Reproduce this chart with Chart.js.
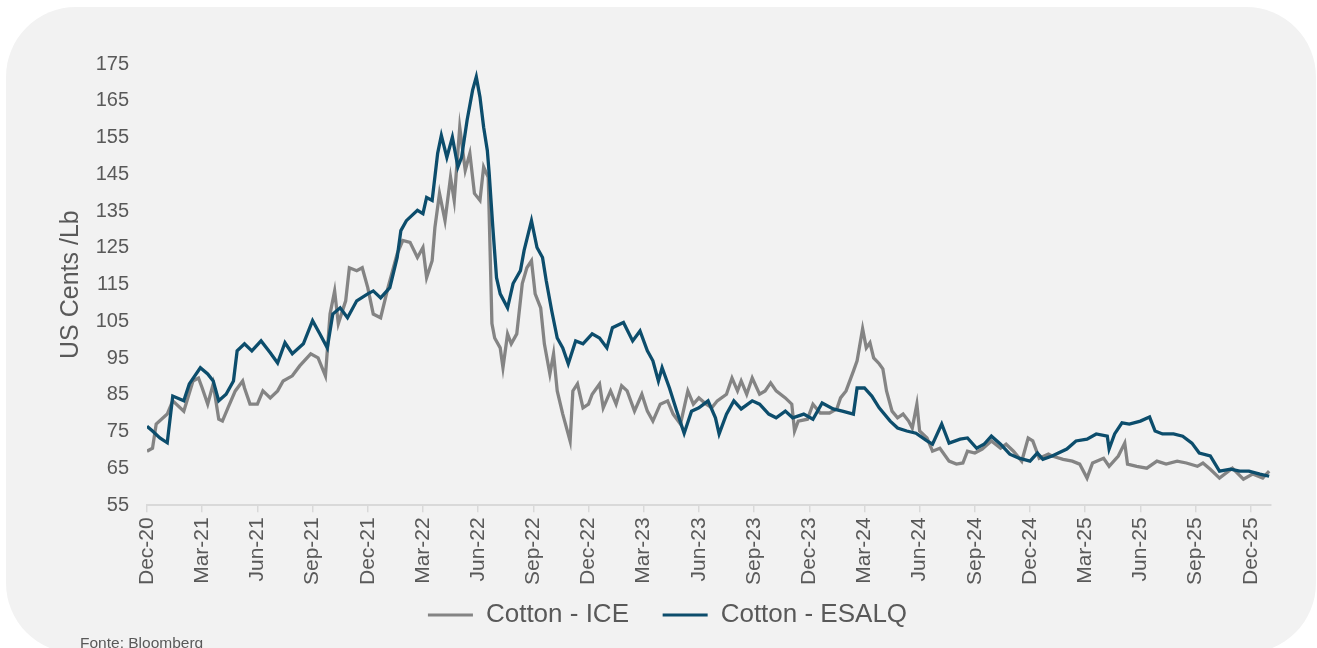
<!DOCTYPE html>
<html>
<head>
<meta charset="utf-8">
<script src="https://cdn.jsdelivr.net/npm/chart.js@4.4.1/dist/chart.umd.min.js"></script>
<style>
  html, body { margin: 0; padding: 0; background: #ffffff; }
  #wrap { position: relative; width: 1317px; height: 648px; overflow: hidden; }
  #panel { position: absolute; left: 6px; top: 7px; width: 1310px; height: 646px;
           border-radius: 70px; background: #f2f2f2; }
  #chart { position: absolute; left: 0; top: 0; }
  #source { position: absolute; left: 80px; top: 634px; font: 15.5px "Liberation Sans", Arial, sans-serif;
            color: #595959; white-space: nowrap; }
</style>
</head>
<body>
<div id="wrap">
  <div id="panel"></div>
  <canvas id="chart" width="1317" height="648"></canvas>
  <div id="source">Fonte: Bloomberg</div>
</div>
<script>
// x = months since Dec-20
let tickLabels = ["Dec-20", "Mar-21", "Jun-21", "Sep-21", "Dec-21", "Mar-22", "Jun-22", "Sep-22",
  "Dec-22", "Mar-23", "Jun-23", "Sep-23", "Dec-23", "Mar-24", "Jun-24", "Sep-24", "Dec-24",
  "Mar-25", "Jun-25", "Sep-25", "Dec-25"];

let iceMonths = [0, 0.3, 0.5, 1.1, 1.4, 2.0, 2.5, 2.8, 3.0, 3.3, 3.6, 3.9, 4.1, 4.4, 4.8, 5.2, 5.3, 5.6, 6.0,
  6.3, 6.7, 7.1, 7.4, 7.9, 8.3, 8.9, 9.3, 9.7, 9.95, 10.2, 10.4, 10.8, 11.0, 11.4, 11.7, 12.0, 12.3, 12.7,
  13.1, 13.6, 13.9, 14.3, 14.7, 15.0, 15.2, 15.5, 15.65, 15.9, 16.2, 16.5, 16.7, 17.0, 17.3, 17.55, 17.8,
  18.1, 18.3, 18.55, 18.75, 18.9, 19.2, 19.35, 19.6, 19.8, 20.1, 20.4, 20.65, 20.9, 21.1, 21.4, 21.6, 21.9,
  22.1, 22.3, 22.6, 23.0, 23.15, 23.4, 23.7, 24.0, 24.2, 24.6, 24.8, 25.2, 25.5, 25.8, 26.1, 26.5, 26.9,
  27.2, 27.5, 27.9, 28.3, 28.6, 29.0, 29.4, 29.7, 30.0, 30.4, 30.7, 31.0, 31.5, 31.8, 32.1, 32.3, 32.6,
  32.9, 33.3, 33.6, 33.9, 34.2, 34.7, 35.05, 35.2, 35.4, 35.9, 36.2, 36.6, 37.1, 37.5, 37.7, 38.0, 38.4,
  38.6, 38.9, 39.1, 39.3, 39.5, 39.8, 40.0, 40.2, 40.5, 40.8, 41.1, 41.4, 41.6, 41.85, 42.0, 42.4, 42.7,
  43.1, 43.6, 44.0, 44.35, 44.6, 45.0, 45.4, 45.9, 46.4, 46.7, 47.1, 47.55, 47.9, 48.15, 48.5, 49.0, 49.2,
  49.8, 50.3, 50.7, 51.1, 51.4, 52.0, 52.3, 52.8, 53.15, 53.3, 53.8, 54.35, 54.9, 55.4, 56.0, 56.5, 57.1,
  57.4, 57.8, 58.3, 59.0, 59.6, 60.1, 60.65, 61.0];
let iceValues = [69.7, 70.5, 77.1, 79.8, 83.4, 80.6, 88.8, 89.6, 86.9, 82.5, 88.0, 78.4, 77.9, 81.5, 86.1,
  88.8, 86.9, 82.5, 82.5, 86.1, 84.2, 86.1, 88.8, 90.2, 92.9, 96.2, 95.1, 90.2, 107.0, 113.3, 104.4, 110.6,
  119.6, 118.8, 119.6, 114.2, 107.0, 106.0, 114.2, 123.4, 127.0, 126.5, 122.4, 125.1, 116.9, 121.5, 130.5,
  139.8, 132.4, 144.2, 137.9, 157.8, 146.1, 150.7, 139.8, 137.9, 147.0, 144.2, 104.4, 100.5, 97.8, 92.4,
  101.6, 98.9, 101.6, 115.3, 119.6, 121.5, 112.5, 108.7, 98.9, 90.7, 96.2, 86.1, 79.8, 72.5, 86.1, 88.0,
  81.5, 82.5, 85.2, 88.0, 81.5, 86.1, 82.5, 87.5, 86.1, 80.6, 85.2, 80.6, 77.9, 82.5, 83.4, 79.8, 77.1,
  86.1, 82.5, 84.2, 82.5, 81.5, 83.4, 85.2, 89.6, 86.1, 88.8, 85.2, 89.6, 85.2, 86.1, 88.3, 86.1, 84.2,
  82.5, 75.2, 77.9, 78.4, 82.5, 80.1, 80.1, 81.2, 84.2, 86.1, 91.5, 94.3, 103.0, 97.8, 99.2, 95.1, 93.5,
  92.1, 86.1, 80.6, 78.8, 79.8, 77.9, 76.0, 82.5, 75.2, 73.3, 69.7, 70.5, 67.0, 66.2, 66.5, 69.7, 69.2,
  70.3, 72.5, 70.5, 71.6, 69.7, 67.0, 73.3, 72.5, 67.8, 68.9, 68.4, 67.5, 67.0, 66.2, 62.4, 66.5, 67.8,
  65.6, 68.4, 71.9, 66.2, 65.6, 65.1, 67.0, 66.2, 67.0, 66.5, 65.6, 66.5, 64.8, 62.4, 65.1, 62.1, 63.5,
  62.4, 64.3];

let esalqMonths = [0, 0.3, 0.7, 1.1, 1.4, 2.0, 2.3, 2.9, 3.3, 3.6, 3.9, 4.3, 4.7, 4.9, 5.3, 5.7, 6.2, 6.7,
  7.1, 7.5, 7.9, 8.5, 9.0, 9.4, 9.8, 10.1, 10.5, 10.9, 11.4, 12.0, 12.3, 12.7, 13.2, 13.6, 13.8, 14.1, 14.7,
  15.0, 15.2, 15.5, 15.8, 16.0, 16.3, 16.6, 16.9, 17.1, 17.4, 17.7, 17.9, 18.1, 18.3, 18.5, 18.6, 18.8,
  19.0, 19.2, 19.6, 19.9, 20.3, 20.5, 20.9, 21.2, 21.5, 21.7, 22.0, 22.3, 22.6, 22.9, 23.3, 23.7, 24.2,
  24.6, 25.0, 25.3, 25.9, 26.4, 26.8, 27.2, 27.5, 27.8, 28.0, 28.4, 28.8, 29.2, 29.6, 30.0, 30.5, 30.9,
  31.1, 31.5, 31.9, 32.3, 32.9, 33.3, 33.8, 34.2, 34.7, 35.1, 35.7, 36.2, 36.7, 37.3, 37.8, 38.4, 38.6,
  39.0, 39.4, 39.8, 40.4, 40.8, 41.3, 41.8, 42.4, 42.7, 43.2, 43.6, 44.2, 44.6, 45.1, 45.5, 45.9, 46.4,
  46.9, 47.4, 48.0, 48.4, 48.7, 49.2, 50.0, 50.5, 51.1, 51.6, 52.2, 52.3, 52.6, 53.0, 53.4, 54.0, 54.5,
  54.8, 55.2, 55.8, 56.3, 56.8, 57.2, 57.8, 58.3, 58.9, 59.4, 59.9, 60.5, 61.0];
let esalqValues = [76.5, 75.2, 73.3, 72.0, 84.7, 83.4, 88.0, 92.4, 90.7, 88.8, 83.4, 85.2, 88.8, 97.0,
  98.9, 97.0, 99.7, 96.5, 93.7, 99.2, 96.2, 98.9, 105.2, 101.6, 97.8, 107.0, 108.7, 106.0, 110.6, 112.5,
  113.3, 111.4, 114.2, 122.4, 129.7, 132.4, 135.2, 134.3, 138.7, 137.9, 150.7, 155.6, 149.6, 155.1, 147.0,
  149.6, 159.7, 167.9, 171.5, 166.0, 157.8, 151.5, 145.3, 130.5, 116.9, 112.5, 108.7, 115.3, 118.8, 124.3,
  132.4, 125.1, 122.4, 116.1, 107.9, 100.5, 97.8, 93.5, 99.7, 98.9, 101.6, 100.5, 97.8, 103.3, 104.7,
  99.7, 102.4, 97.0, 94.3, 88.8, 92.4, 86.9, 80.6, 74.6, 80.6, 81.5, 83.4, 78.8, 74.4, 79.8, 83.4, 81.2,
  83.4, 82.5, 79.8, 78.8, 80.6, 78.8, 79.8, 78.4, 82.8, 81.2, 80.6, 79.8, 86.9, 86.9, 84.7, 81.5, 77.9,
  76.0, 75.2, 74.6, 72.5, 71.6, 77.1, 71.9, 73.0, 73.3, 70.5, 71.6, 73.8, 71.6, 68.9, 67.8, 67.0, 69.2,
  67.5, 68.4, 70.3, 72.5, 73.0, 74.4, 73.8, 70.3, 74.4, 77.4, 77.1, 77.9, 79.0, 75.2, 74.4, 74.4, 73.8,
  71.9, 69.2, 68.4, 64.3, 64.8, 64.3, 64.3, 63.5, 62.9];

let fontFamily = '"Liberation Sans", Arial, sans-serif';
let textColor = "#595959";
let axisColor = "#d9d9d9";

// nudge the legend row to where the original sits
let legendShift = {
  id: "legendShift",
  afterLayout(chart) {
    chart.legend.left += 7;
    chart.legend.right += 7;
  }
};

let ctx = document.getElementById("chart").getContext("2d");

let chart = new Chart(ctx, {
  type: "line",
  plugins: [legendShift],
  data: {
    datasets: [
      {
        label: "Cotton - ICE\u00a0\u00a0\u00a0",
        data: iceMonths.map((m, i) => ({ x: m, y: iceValues[i] })),
        borderColor: "#848484",
        backgroundColor: "#848484",
        borderWidth: 3.3,
        pointRadius: 0,
        tension: 0,
        order: 1
      },
      {
        label: "Cotton - ESALQ",
        data: esalqMonths.map((m, i) => ({ x: m, y: esalqValues[i] })),
        borderColor: "#0c4d6c",
        backgroundColor: "#0c4d6c",
        borderWidth: 3.3,
        pointRadius: 0,
        tension: 0,
        order: 0
      }
    ]
  },
  options: {
    responsive: false,
    animation: false,
    layout: { padding: { left: 50, right: 46, top: 64, bottom: 10 } },
    plugins: {
      tooltip: { enabled: false },
      legend: {
        position: "bottom",
        labels: {
          font: { family: fontFamily, size: 26 },
          color: textColor,
          boxWidth: 45,
          boxHeight: 3,
          padding: 12,
          sort: (a, b) => a.datasetIndex - b.datasetIndex,
          generateLabels: chart => Chart.defaults.plugins.legend.labels.generateLabels(chart)
            .map(item => Object.assign(item, { lineWidth: 0 }))
        }
      }
    },
    scales: {
      x: {
        type: "linear",
        min: 0,
        max: 61.1,
        afterBuildTicks: scale => {
          scale.ticks = tickLabels.map((_, i) => ({ value: i * 3 }));
        },
        ticks: {
          autoSkip: false,
          minRotation: 90,
          maxRotation: 90,
          padding: 5,
          color: textColor,
          font: { family: fontFamily, size: 21 },
          callback: value => tickLabels[Math.round(value / 3)]
        },
        grid: {
          drawOnChartArea: false,
          drawTicks: true,
          tickLength: 7,
          color: axisColor,
          lineWidth: 1.5
        },
        border: { display: true, color: axisColor, width: 2 }
      },
      y: {
        min: 55,
        max: 175,
        afterFit: scale => { scale.width = 97; },
        ticks: {
          stepSize: 10,
          padding: 18,
          color: textColor,
          font: { family: fontFamily, size: 20 }
        },
        grid: { display: false, drawTicks: false },
        border: { display: false },
        title: {
          display: true,
          text: "US Cents /Lb",
          color: textColor,
          font: { family: fontFamily, size: 25 },
          padding: { top: 6, bottom: 0 }
        }
      }
    }
  }
});
</script>
</body>
</html>
